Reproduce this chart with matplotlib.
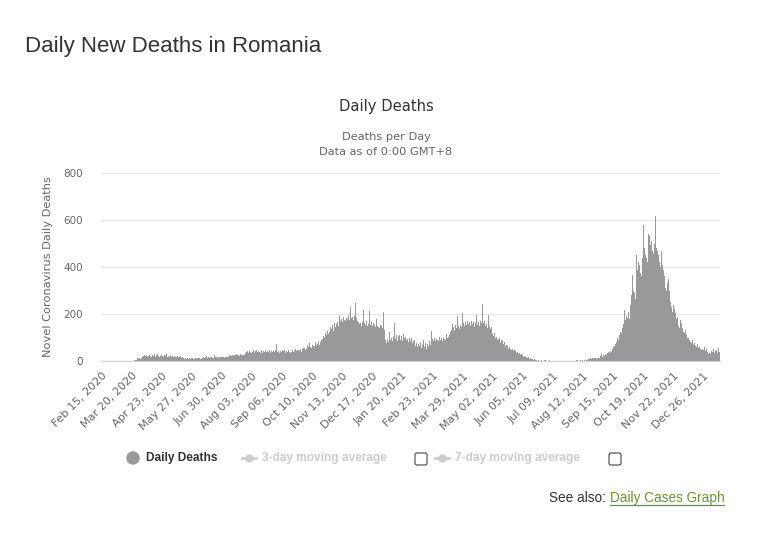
import numpy as np
import pandas as pd
import matplotlib
matplotlib.use("Agg")
import matplotlib.pyplot as plt
from matplotlib.patches import Circle, FancyBboxPatch

# daily new deaths, Romania, one list per month
start_date = "2020-02-15"
feb2020 = [0] * 15
mar2020 = [0] * 21 + [2, 3, 4, 9, 5, 11, 8, 12, 10, 14]
apr2020 = [18, 22, 16, 24, 20, 27, 19, 23, 26, 21, 30, 17, 25, 22, 28, 19, 24, 31, 20, 26,
           18, 23, 27, 21, 17, 25, 20, 29, 22, 19]
may2020 = [21, 17, 24, 19, 22, 16, 20, 23, 18, 15, 21, 19, 17, 22, 14, 18, 16, 12, 10, 13,
           9, 11, 8, 12, 10, 9, 13, 11, 8, 10, 12]
jun2020 = [10, 12, 9, 11, 13, 8, 10, 14, 16, 13, 17, 15, 22, 14, 16, 12, 18, 15, 13, 17,
           14, 24, 16, 15, 13, 18, 14, 16, 20, 15]
jul2020 = [16, 18, 14, 17, 19, 15, 18, 20, 22, 24, 21, 26, 23, 25, 27, 22, 28, 24, 26, 23,
           29, 25, 27, 24, 30, 26, 32, 38, 42, 36, 44]
aug2020 = [40, 35, 43, 38, 45, 33, 41, 46, 37, 42, 39, 44, 36, 48, 34, 41, 38, 45, 40, 35,
           43, 39, 46, 33, 42, 37, 44, 40, 36, 47, 71]
sep2020 = [38, 44, 35, 42, 39, 47, 33, 41, 45, 36, 43, 38, 48, 40, 35, 44, 39, 46, 37, 42,
           50, 41, 45, 38, 47, 43, 52, 40, 49, 55]
oct2020 = [56, 48, 62, 51, 66, 58, 77, 60, 54, 69, 63, 72, 59, 81, 67, 74, 85, 70, 79, 88,
           76, 92, 105, 98, 118, 110, 127, 115, 135, 122, 144]
nov2020 = [138, 152, 129, 160, 145, 156, 140, 168, 150, 193, 172, 180, 165, 188, 176, 206,
           170, 185, 178, 192, 174, 229, 183, 169, 187, 175, 190, 246, 181, 172]
dec2020 = [165, 158, 171, 162, 150, 168, 217, 160, 155, 172, 148, 163, 157, 214, 152, 166,
           149, 161, 154, 146, 158, 177, 151, 144, 139, 153, 147, 141, 156, 207, 130]
jan2021 = [88, 76, 95, 82, 124, 90, 79, 98, 85, 103, 160, 94, 110, 87, 105, 99, 112, 91,
           108, 84, 115, 96, 102, 88, 109, 93, 81, 100, 86, 97, 78]
feb2021 = [84, 72, 90, 65, 78, 58, 74, 62, 81, 55, 70, 67, 88, 60, 76, 52, 71, 64, 85, 57,
           69, 128, 92, 86, 98, 83, 95, 89]
mar2021 = [94, 87, 101, 90, 97, 84, 99, 92, 105, 88, 117, 96, 103, 110, 124, 131, 158, 138,
           145, 129, 152, 140, 191, 147, 136, 155, 149, 143, 203, 161, 150]
apr2021 = [166, 153, 172, 158, 191, 164, 149, 170, 157, 168, 145, 162, 174, 196, 155, 167,
           150, 171, 160, 243, 163, 152, 169, 147, 158, 141, 196, 150, 137, 145]
may2021 = [128, 115, 108, 121, 97, 103, 89, 95, 84, 100, 78, 91, 86, 73, 82, 61, 70, 55,
           64, 49, 58, 52, 45, 50, 41, 47, 36, 43, 33, 38, 29]
jun2021 = [34, 27, 31, 24, 26, 19, 22, 15, 18, 12, 16, 9, 14, 11, 7, 10, 6, 8, 4, 5,
           0, 3, 6, 2, 0, 4, 1, 0, 3, 5]
jul2021 = [1, 2, 0, 1, 3, 1, 0, 2, 1, 0, 1, 2, 0, 1, 1, 0, 2, 1, 0, 1, 2, 0, 1, 0, 1, 2,
           1, 0, 1, 2, 1]
aug2021 = [1, 2, 1, 3, 2, 5, 1, 2, 3, 2, 6, 2, 3, 1, 2, 4, 3, 8, 9, 11, 8, 10, 12, 9, 11,
           13, 10, 12, 14, 11, 18]
sep2021 = [22, 31, 19, 25, 21, 28, 24, 33, 29, 38, 35, 44, 40, 52, 58, 63, 72, 67, 81, 96,
           88, 110, 124, 118, 139, 131, 158, 217, 176, 190]
oct2021 = [185, 210, 180, 240, 331, 280, 364, 300, 290, 265, 453, 389, 420, 395, 410, 375,
           360, 440, 579, 481, 453, 470, 440, 420, 541, 531, 495, 510, 470, 455, 430]
nov2021 = [500, 615, 481, 470, 453, 420, 400, 467, 430, 410, 389, 360, 310, 300, 330, 350,
           300, 267, 250, 230, 210, 239, 220, 205, 180, 170, 189, 150, 140, 174]
dec2021 = [160, 139, 125, 118, 105, 130, 112, 96, 100, 88, 82, 75, 90, 70, 68, 78, 62, 58,
           72, 55, 60, 50, 66, 48, 52, 45, 58, 42, 50, 38, 46]
jan2022 = [30, 35, 28, 44, 38, 52, 33, 41, 29, 47, 36, 55, 40]

deaths = (feb2020 + mar2020 + apr2020 + may2020 + jun2020 + jul2020 + aug2020 + sep2020
          + oct2020 + nov2020 + dec2020 + jan2021 + feb2021 + mar2021 + apr2021 + may2021
          + jun2021 + jul2021 + aug2021 + sep2021 + oct2021 + nov2021 + dec2021 + jan2022)

dates = pd.date_range(start_date, periods=len(deaths), freq="D")
tick_step = 34
y_ticks = [0, 200, 400, 600, 800]

x = np.arange(len(deaths))
tick_idx = x[::tick_step]
tick_labels = [dates[i].strftime("%b %d, %Y") for i in tick_idx]

W, H = 772, 547
fig = plt.figure(figsize=(W / 100, H / 100), dpi=100)

# plot area in pixels
left, right, top, bottom = 101, 720, 173, 361
ax = fig.add_axes([left / W, 1 - bottom / H, (right - left) / W, (bottom - top) / H])
ax.bar(x, deaths, width=1.0, color="#999999", linewidth=0)
ax.set_xlim(-0.5, len(deaths) - 0.5)
ax.set_ylim(0, 800)
ax.set_yticks(y_ticks)
ax.yaxis.grid(True, color="#e6e6e6", linewidth=1)
ax.set_axisbelow(True)
for s in ["top", "right", "left"]:
    ax.spines[s].set_visible(False)
ax.spines["bottom"].set_color("#ccd6eb")
ax.tick_params(axis="y", length=0, pad=13, labelsize=7.5, labelcolor="#666666")
ax.set_xticks(tick_idx)
ax.set_xticklabels(tick_labels, rotation=45, ha="right", va="top",
                   rotation_mode="anchor", fontsize=8, color="#666666")
ax.tick_params(axis="x", length=0, pad=7)

# overlay in pixel coordinates for titles and legend
ov = fig.add_axes([0, 0, 1, 1])
ov.set_xlim(0, W)
ov.set_ylim(H, 0)
ov.axis("off")
ov.patch.set_alpha(0)

ov.text(25, 52, "Daily New Deaths in Romania", fontsize=16, family="Liberation Sans",
        color="#333333", va="baseline")
ov.text(386, 111.5, "Daily Deaths", fontsize=10.6, color="#333333", ha="center", va="baseline")
ov.text(386, 140, "Deaths per Day", fontsize=8.2, color="#666666", ha="center", va="baseline")
ov.text(386, 155, "Data as of 0:00 GMT+8", fontsize=8.2, color="#666666", ha="center", va="baseline")
ov.text(48, (top + bottom) / 2, "Novel Coronavirus Daily Deaths", fontsize=8.2, color="#666666",
        rotation=90, ha="center", va="center")

# legend
ly = 458
ov.add_patch(Circle((133, ly), 6, color="#999999"))
ov.text(146, ly, "Daily Deaths", fontsize=8.6, fontweight="bold", family="Liberation Sans",
        color="#333333", va="center")
for sx, label, bx in [(242, "3-day moving average", 415), (435, "7-day moving average", 609)]:
    ov.plot([sx, sx + 14], [ly, ly], color="#cccccc", lw=2)
    ov.plot(sx + 7, ly, "o", ms=5, color="#cccccc")
    ov.text(sx + 20, ly, label, fontsize=8.6, fontweight="bold", family="Liberation Sans",
            color="#cccccc", va="center")
    ov.add_patch(FancyBboxPatch((bx, ly - 5), 12, 12, boxstyle="round,pad=0,rounding_size=2",
                                fc="white", ec="#444444", lw=0.8))

# see also link
t1 = ov.text(549, 498, "See also: ", fontsize=9.8, family="Liberation Sans",
             color="#333333", va="center")
fig.canvas.draw()
bb = t1.get_window_extent()
x2 = bb.x1
t2 = ov.text(x2, 498, "Daily Cases Graph", fontsize=9.8, family="Liberation Sans",
             color="#669a25", va="center")
fig.canvas.draw()
bb2 = t2.get_window_extent()
ov.plot([bb2.x0, bb2.x1], [505, 505], color="#669a25", lw=0.9)

fig.savefig("out.png", dpi=100)
